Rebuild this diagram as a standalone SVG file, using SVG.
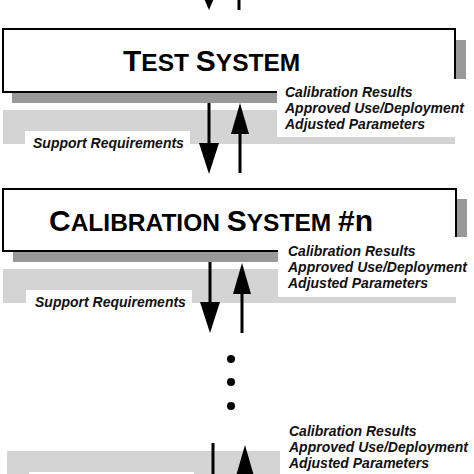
<svg xmlns="http://www.w3.org/2000/svg" width="474" height="474" viewBox="0 0 474 474">
<style>
.bg{fill:#fff}
.dark{fill:#999}
.light{fill:#d4d4d4}
.frame{fill:none;stroke:#000;stroke-width:2}
.title{font-family:"Liberation Sans",Arial,sans-serif;font-weight:bold;fill:#000}
.lbl{font-family:"Liberation Sans",Arial,sans-serif;font-weight:bold;font-style:italic;font-size:14px;fill:#111}
.shaft{stroke:#000;stroke-width:3;fill:none}
.head{fill:#000}
</style>
<rect width="474" height="474" fill="#fff"/>

<g id="test-system">
  <rect class="dark" x="456" y="40" width="10" height="39"/>
  <rect class="dark" x="12" y="92" width="265" height="11"/>
  <polygon class="light" points="3,110 277,110 277,137 455,137 455,144 190,144 190,131 25,131 25,144 3,144"/>
  <rect class="bg" x="3" y="29" width="452" height="63"/>
  <polyline class="frame" points="277,92 3,92 3,29 455,29 455,79"/>
  <text class="title" x="123" y="71"><tspan font-size="30">T</tspan><tspan font-size="24.5">EST </tspan><tspan font-size="30">S</tspan><tspan font-size="24.5">YSTEM</tspan></text>
  <text class="lbl" x="285" y="97">Calibration Results</text>
  <text class="lbl" x="285" y="113">Approved Use/Deployment</text>
  <text class="lbl" x="285" y="129">Adjusted Parameters</text>
  <text class="lbl" x="33" y="148">Support Requirements</text>
</g>

<g id="calibration-system">
  <rect class="dark" x="457" y="199" width="10" height="38"/>
  <rect class="dark" x="13" y="251" width="265" height="11"/>
  <polygon class="light" points="3,269 278,269 278,297 456,297 456,303 192,303 192,290 26,290 26,303 3,303"/>
  <rect class="bg" x="3" y="189" width="453" height="62"/>
  <polyline class="frame" points="278,251 3,251 3,189 456,189 456,237"/>
  <text class="title" x="49" y="231"><tspan font-size="30">C</tspan><tspan font-size="24.5">ALIBRATION </tspan><tspan font-size="30">S</tspan><tspan font-size="24.5">YSTEM </tspan><tspan font-size="30">#n</tspan></text>
  <text class="lbl" x="288" y="256">Calibration Results</text>
  <text class="lbl" x="288" y="272">Approved Use/Deployment</text>
  <text class="lbl" x="288" y="288">Adjusted Parameters</text>
  <text class="lbl" x="35" y="307">Support Requirements</text>
</g>

<g id="ellipsis">
  <circle cx="231" cy="359" r="4"/>
  <circle cx="231" cy="382" r="4"/>
  <circle cx="231" cy="406" r="4"/>
</g>

<g id="calibration-system-last">
  <polygon class="light" points="7,451 280,451 280,474 7,474"/>
  <rect class="bg" x="29" y="472" width="165" height="4"/>
  <text class="lbl" x="289" y="436">Calibration Results</text>
  <text class="lbl" x="289" y="452">Approved Use/Deployment</text>
  <text class="lbl" x="289" y="468">Adjusted Parameters</text>
</g>

<g id="connectors">
  <!-- top -->
  <polygon class="head" points="203,-4 215,-4 209,10"/>
  <line class="shaft" x1="239" y1="0" x2="239" y2="10"/>
  <!-- test system to calibration system -->
  <line class="shaft" x1="209" y1="103" x2="209" y2="145"/>
  <polygon class="head" points="199,143 219,143 209,174"/>
  <line class="shaft" x1="240" y1="131" x2="240" y2="173"/>
  <polygon class="head" points="231,134 249,134 240,103"/>
  <!-- calibration system down -->
  <line class="shaft" x1="210" y1="262" x2="210" y2="304"/>
  <polygon class="head" points="200,302 220,302 210,333"/>
  <line class="shaft" x1="242" y1="291" x2="242" y2="333"/>
  <polygon class="head" points="233,294 251,294 242,263"/>
  <!-- bottom -->
  <line class="shaft" x1="213" y1="443" x2="213" y2="474"/>
  <polygon class="head" points="236,476 254,476 245,445"/>
</g>
</svg>
